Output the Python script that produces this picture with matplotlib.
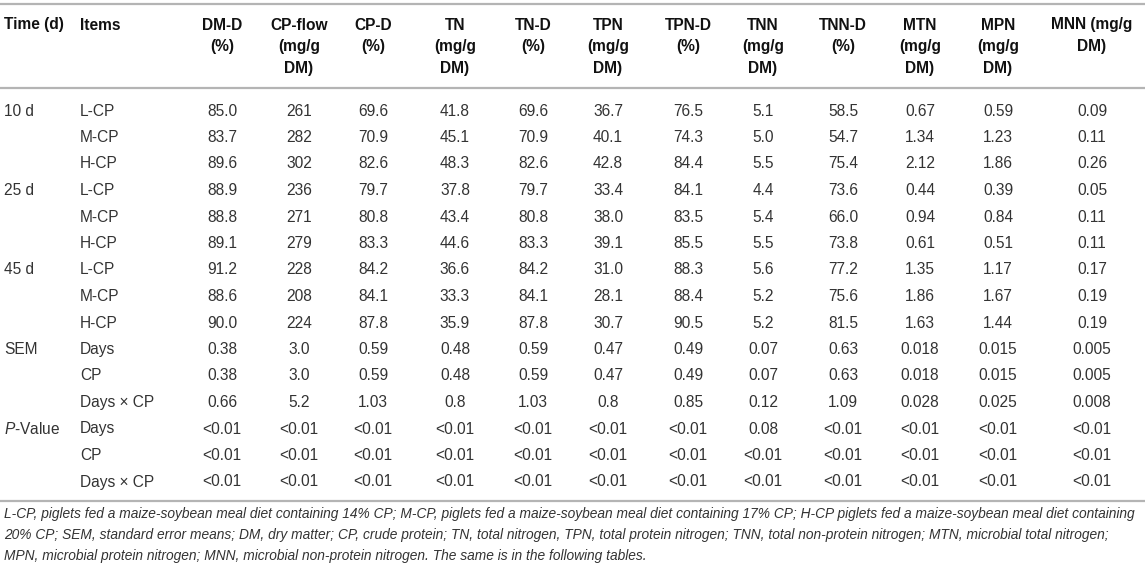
#!/usr/bin/env python3
"""
Table of digestibility and nitrogen fractions, drawn as text with matplotlib
"""

import matplotlib
matplotlib.use("Agg")
import matplotlib.pyplot as plt

plt.rcParams['font.family'] = ['Liberation Sans', 'DejaVu Sans']
plt.rcParams['mathtext.fontset'] = 'custom'
plt.rcParams['mathtext.rm'] = 'Liberation Sans'
plt.rcParams['mathtext.it'] = 'Liberation Sans:italic'

# ---- table content ----
headers = ["DM-D\n(%)", "CP-flow\n(mg/g\nDM)", "CP-D\n(%)", "TN\n(mg/g\nDM)",
           "TN-D\n(%)", "TPN\n(mg/g\nDM)", "TPN-D\n(%)", "TNN\n(mg/g\nDM)",
           "TNN-D\n(%)", "MTN\n(mg/g\nDM)", "MPN\n(mg/g\nDM)", "MNN (mg/g\nDM)"]

time_labels = ["10 d", "", "", "25 d", "", "", "45 d", "", "",
               "SEM", "", "", r"$\it{P}$-Value", "", ""]
items = ["L-CP", "M-CP", "H-CP", "L-CP", "M-CP", "H-CP", "L-CP", "M-CP", "H-CP",
         "Days", "CP", "Days × CP", "Days", "CP", "Days × CP"]

p3 = ["<0.01", "<0.01", "<0.01"]
dm_d = ["85.0", "83.7", "89.6", "88.9", "88.8", "89.1", "91.2", "88.6", "90.0",
        "0.38", "0.38", "0.66"] + p3
cp_flow = ["261", "282", "302", "236", "271", "279", "228", "208", "224",
           "3.0", "3.0", "5.2"] + p3
cp_d = ["69.6", "70.9", "82.6", "79.7", "80.8", "83.3", "84.2", "84.1", "87.8",
        "0.59", "0.59", "1.03"] + p3
tn = ["41.8", "45.1", "48.3", "37.8", "43.4", "44.6", "36.6", "33.3", "35.9",
      "0.48", "0.48", "0.8"] + p3
tn_d = ["69.6", "70.9", "82.6", "79.7", "80.8", "83.3", "84.2", "84.1", "87.8",
        "0.59", "0.59", "1.03"] + p3
tpn = ["36.7", "40.1", "42.8", "33.4", "38.0", "39.1", "31.0", "28.1", "30.7",
       "0.47", "0.47", "0.8"] + p3
tpn_d = ["76.5", "74.3", "84.4", "84.1", "83.5", "85.5", "88.3", "88.4", "90.5",
         "0.49", "0.49", "0.85"] + p3
tnn = ["5.1", "5.0", "5.5", "4.4", "5.4", "5.5", "5.6", "5.2", "5.2",
       "0.07", "0.07", "0.12", "0.08", "<0.01", "<0.01"]
tnn_d = ["58.5", "54.7", "75.4", "73.6", "66.0", "73.8", "77.2", "75.6", "81.5",
         "0.63", "0.63", "1.09"] + p3
mtn = ["0.67", "1.34", "2.12", "0.44", "0.94", "0.61", "1.35", "1.86", "1.63",
       "0.018", "0.018", "0.028"] + p3
mpn = ["0.59", "1.23", "1.86", "0.39", "0.84", "0.51", "1.17", "1.67", "1.44",
       "0.015", "0.015", "0.025"] + p3
mnn = ["0.09", "0.11", "0.26", "0.05", "0.11", "0.11", "0.17", "0.19", "0.19",
       "0.005", "0.005", "0.008"] + p3

columns = [dm_d, cp_flow, cp_d, tn, tn_d, tpn, tpn_d, tnn, tnn_d, mtn, mpn, mnn]

footnote = [
    "L-CP, piglets fed a maize-soybean meal diet containing 14% CP; M-CP, piglets fed a maize-soybean meal diet containing 17% CP; H-CP piglets fed a maize-soybean meal diet containing",
    "20% CP; SEM, standard error means; DM, dry matter; CP, crude protein; TN, total nitrogen, TPN, total protein nitrogen; TNN, total non-protein nitrogen; MTN, microbial total nitrogen;",
    "MPN, microbial protein nitrogen; MNN, microbial non-protein nitrogen. The same is in the following tables.",
]

# ---- layout (pixel units) ----
W, H = 1145, 570
col_x = [222, 299, 373, 455, 533, 608, 688, 763, 843, 920, 998, 1092]
x_time, x_items = 4, 80
y_head0, head_step = 25, 22
y_row0, row_step = 111, 26.5
line_color = '#b4b4b4'
body_color = '#333333'
fs = 11.2

fig = plt.figure(figsize=(W / 100, H / 100), dpi=100)
ax = fig.add_axes([0, 0, 1, 1])
ax.set_xlim(0, W)
ax.set_ylim(H, 0)
ax.axis('off')

# rules
for y in (4, 88, 501):
    ax.plot([0, W], [y, y], color=line_color, lw=1.6, solid_capstyle='butt')

# header
ax.text(x_time, y_head0, "Time (d)", fontsize=fs, fontweight='bold', va='center', ha='left', color='#111111')
ax.text(x_items, y_head0, "Items", fontsize=fs, fontweight='bold', va='center', ha='left', color='#111111')
for x, h in zip(col_x, headers):
    for k, part in enumerate(h.split("\n")):
        ax.text(x, y_head0 + k * head_step, part, fontsize=fs, fontweight='bold',
                va='center', ha='center', color='#111111')

# body
for i in range(len(items)):
    y = y_row0 + i * row_step
    if time_labels[i]:
        ax.text(x_time, y, time_labels[i], fontsize=fs, va='center', ha='left', color=body_color)
    ax.text(x_items, y, items[i], fontsize=fs, va='center', ha='left', color=body_color)
    for x, col in zip(col_x, columns):
        ax.text(x, y, col[i], fontsize=fs, va='center', ha='center', color=body_color)

# footnote, sized so that the first line spans the table width
renderer = fig.canvas.get_renderer()
probe = ax.text(x_time, 514, footnote[0], fontsize=10, style='italic', va='center', ha='left')
w = probe.get_window_extent(renderer).width
probe.remove()
fn_size = 10 * (W - 10) / w
for k, line in enumerate(footnote):
    ax.text(x_time, 514 + k * 21, line, fontsize=fn_size, style='italic',
            va='center', ha='left', color=body_color)

fig.savefig('out.png', dpi=100)
plt.close(fig)
